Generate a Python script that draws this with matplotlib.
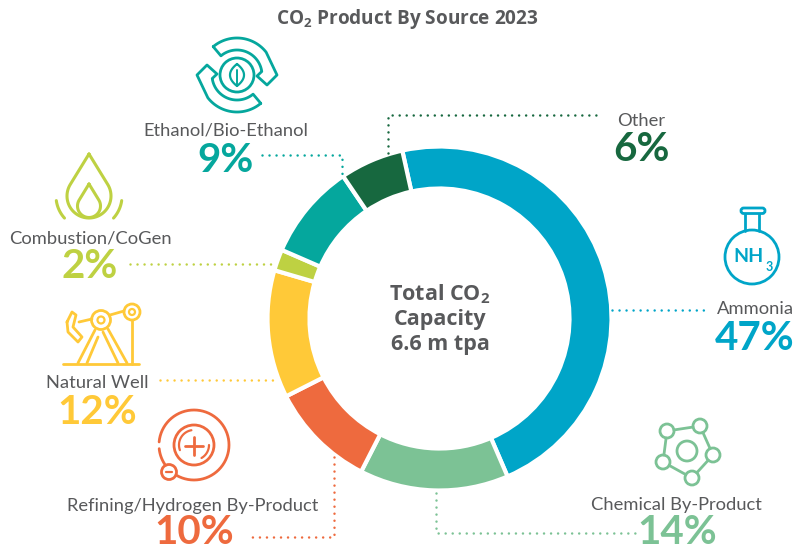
import numpy as np
import matplotlib
matplotlib.use('Agg')
import matplotlib.pyplot as plt
from matplotlib.patches import Circle, FancyBboxPatch

plt.rcParams['font.family'] = ['Lato', 'DejaVu Sans']
plt.rcParams['mathtext.default'] = 'regular'

sources = ['Ammonia', 'Chemical By-Product', 'Refining/Hydrogen By-Product', 'Natural Well',
           'Combustion/CoGen', 'Ethanol/Bio-Ethanol', 'Other']
shares = [47, 14, 10, 12, 2, 9, 6]
colors = ['#00A5C8', '#7CC295', '#EE6A3E', '#FFC938', '#BED142', '#05A79D', '#17683F']
grey = '#58595B'

W, H = 797, 546
fig = plt.figure(figsize=(W / 100, H / 100), dpi=100)

# canvas in pixel units, y pointing down, for labels, leaders and icons
canvas = fig.add_axes([0, 0, 1, 1], zorder=2)
canvas.set_xlim(0, W)
canvas.set_ylim(H, 0)
canvas.axis('off')

# donut
cx, cy, r = 439.5, 318.5, 172
donut = fig.add_axes([(cx - r) / W, 1 - (cy + r) / H, 2 * r / W, 2 * r / H], zorder=1)
donut.pie(shares, colors=colors, startangle=102.5, counterclock=False, radius=1,
          wedgeprops=dict(width=42 / r, edgecolor='white', linewidth=3))
donut.set_xlim(-1, 1)
donut.set_ylim(-1, 1)


def arc(x, y, rad, a0, a1, n=60):
    a = np.radians(np.linspace(a0, a1, n))
    return x + rad * np.cos(a), y - rad * np.sin(a)


def line(xs, ys, color, lw=2.0):
    canvas.plot(xs, ys, color=color, lw=lw, solid_capstyle='round', solid_joinstyle='round')


def ring(x, y, rad, color, lw=2.0):
    canvas.add_patch(Circle((x, y), rad, fill=False, edgecolor=color, lw=lw))


def leader(xs, ys, color):
    canvas.plot(xs, ys, color=color, lw=1.8, linestyle=(0, (0.01, 2.8)), dash_capstyle='round')


def drop(x, top, y, rad, color, lw=2.2):
    # teardrop: tip at top, round body of radius rad centred on (x, y)
    t = np.degrees(np.arcsin(rad / (y - top)))
    bx, by = arc(x, y, rad, t, -180 - t)
    line(np.r_[x, bx, x], np.r_[top, by, top], color, lw)


# title and centre text
center_font = ['Open Sans', 'DejaVu Sans']
canvas.text(407, 24, 'CO$_2$ Product By Source 2023', ha='center', va='baseline',
            fontsize=13.7, fontweight='bold', color=grey, family=center_font)
for text, base in zip(['Total CO$_2$', 'Capacity', '6.6 m tpa'], [300, 325, 350]):
    canvas.text(440, base, text, ha='center', va='baseline', fontsize=15.5, fontweight='bold',
                color=grey, family=center_font)

# label anchor for each source: name centre, then percentage baseline
label_pos = [((755.5, 309), (755, 350)), ((676, 505), (677, 544)), ((193, 506), (194, 544)),
             ((97, 383), (97, 424)), ((90, 238), (90, 278)), ((226, 131), (226, 172)),
             ((641, 121), (641, 161))]
for name, value, color, (p_name, p_val) in zip(sources, shares, colors, label_pos):
    canvas.text(*p_name, name, ha='center', va='center', fontsize=13.2, color=grey)
    canvas.text(*p_val, f'{value}%', ha='center', va='baseline', fontsize=29, fontweight='bold', color=color)

# dotted leaders
leader([612, 710], [310, 310], colors[0])
leader([436, 436, 635], [493, 533, 533], colors[1])
leader([334, 334, 246], [457, 537, 537], colors[2])
leader([160, 278], [380, 380], colors[3])
leader([130, 272], [264, 264], colors[4])
leader([262, 342, 342], [155, 155, 177], colors[5])
leader([388, 388, 600], [153, 115, 115], colors[6])

# flask icon
c = colors[0]
ring(752, 257, 27, c)
line([745, 745], [214, 231], c)
line([759, 759], [214, 231], c)
canvas.add_patch(FancyBboxPatch((741, 208), 24, 5.5, boxstyle='round,pad=0,rounding_size=2.7',
                                fill=False, edgecolor=c, lw=2.0))
canvas.text(749, 257, 'NH', ha='center', va='center', fontsize=14, fontweight='bold', color=c)
canvas.text(769, 267, '3', ha='center', va='center', fontsize=9, fontweight='bold', color=c)

# molecule icon
c = colors[1]
nodes_x = np.array([667, 700, 713, 692, 663])
nodes_y = np.array([431, 426, 455, 478, 462])
for i in range(5):
    j = (i + 1) % 5
    dx, dy = nodes_x[j] - nodes_x[i], nodes_y[j] - nodes_y[i]
    d = np.hypot(dx, dy)
    line([nodes_x[i] + 7 * dx / d, nodes_x[j] - 7 * dx / d],
         [nodes_y[i] + 7 * dy / d, nodes_y[j] - 7 * dy / d], c)
    ring(nodes_x[i], nodes_y[i], 7, c)
ring(687, 451, 10, c)

# refining icon
c = colors[2]
line(*arc(194, 445, 35, 175, -120), c)
line(*arc(194, 445, 35, 186, 215), c)
ring(169, 472, 7.5, c)
line([166, 172], [472, 472], c, 1.6)
ring(194, 445, 20, c)
line(*arc(194, 445, 15, 100, 200), c, 1.6)
line(*arc(194, 445, 15, 0, -60), c, 1.6)
line([194, 194], [437, 455], c)
line([185, 203], [446, 446], c)

# pumpjack icon
c = colors[3]
line([63, 139], [364, 364], c)
ring(101, 320, 9.5, c)
ring(101, 320, 3.5, c, 1.6)
ring(132, 312, 8, c)
ring(132, 312, 3, c, 1.6)
line([132, 132], [320, 364], c)
line([79, 92], [322, 319], c)
line([110, 124], [315, 311], c)
line([67, 72, 76, 73, 82, 78, 68, 67], [322, 312, 315, 327, 337, 342, 332, 322], c)
line([95, 78], [330, 363], c)
line([87, 98], [363, 337], c)
line([108, 127], [329, 363], c)
line([118, 103], [363, 332], c)

# flame icon
c = colors[4]
drop(89, 154, 196, 22, c)
drop(89, 184, 206, 11.5, c)
line(*arc(89, 196, 33, 188, 222), c, 2.2)
line(*arc(89, 196, 33, -8, -42), c, 2.2)

# recycling icon, two arrows rotated half a turn
c = colors[5]
ox, oy = 237, 75
ax1, ay1 = arc(0, 0, 37, 130, 38)
ax2, ay2 = arc(0, 0, 25, 8, 130)
arrow_x = np.r_[ax1, 40, 30, 20, ax2, ax1[0]]
arrow_y = np.r_[ay1, 0, 10, 1, ay2, ay1[0]]
line(ox + arrow_x, oy + arrow_y, c)
line(ox - arrow_x, oy - arrow_y, c)
ring(ox, oy, 17, c)
# leaf outline with a centre vein
t = np.linspace(-1, 1, 30)
leaf_w = 7 * (1 - t ** 2)
line(np.r_[ox + leaf_w, ox - leaf_w], np.r_[oy + 11 * t, oy - 11 * t], c, 1.6)
line([ox, ox], [oy - 5, oy + 11], c, 1.4)

fig.savefig('out.png', dpi=100)
